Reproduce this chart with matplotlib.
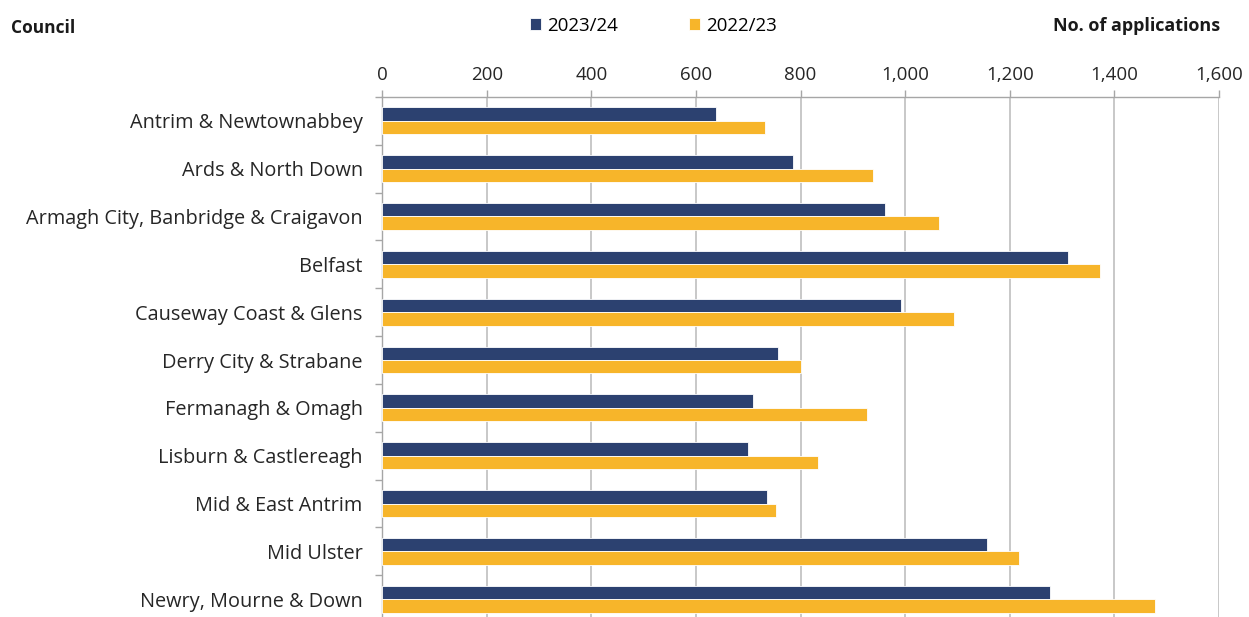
import matplotlib
matplotlib.use('Agg')
import matplotlib.pyplot as plt
from matplotlib.ticker import FuncFormatter, MultipleLocator
import numpy as np

councils = [
    'Antrim & Newtownabbey',
    'Ards & North Down',
    'Armagh City, Banbridge & Craigavon',
    'Belfast',
    'Causeway Coast & Glens',
    'Derry City & Strabane',
    'Fermanagh & Omagh',
    'Lisburn & Castlereagh',
    'Mid & East Antrim',
    'Mid Ulster',
    'Newry, Mourne & Down',
]
apps_2324 = [638, 786, 962, 1311, 991, 757, 709, 699, 735, 1157, 1276]
apps_2223 = [731, 939, 1065, 1372, 1094, 801, 927, 833, 753, 1217, 1478]

navy = '#2C4170'
gold = '#F7B52A'
grid_grey = '#BFBFBF'

plt.rcParams['font.family'] = ['Open Sans', 'DejaVu Sans']

fig = plt.figure(figsize=(12.49, 6.17), dpi=100)
ax = fig.add_axes([0.306, -0.01, 0.67, 0.853])

y = np.arange(len(councils))
h = 0.28
ax.barh(y - h / 2, apps_2324, height=h, color=navy, edgecolor='white', linewidth=0.6,
        label='2023/24', zorder=3)
ax.barh(y + h / 2, apps_2223, height=h, color=gold, edgecolor='white', linewidth=0.6,
        label='2022/23', zorder=3)

ax.set_xlim(0, 1600)
ax.set_ylim(len(councils) - 0.5, -0.5)

# value axis along the top
ax.xaxis.tick_top()
ax.xaxis.set_major_locator(MultipleLocator(200))
ax.xaxis.set_major_formatter(FuncFormatter(lambda v, p: f'{int(v):,}'))
ax.tick_params(axis='x', direction='out', length=5, width=1, color='#A6A6A6',
               labelsize=13.5, labelcolor='#262626', pad=4)
ax.grid(axis='x', color=grid_grey, linewidth=1.2, zorder=0)

# category labels, ticks between the groups
ax.set_yticks(y)
ax.set_yticklabels(councils, fontsize=14.3, color='#262626')
ax.set_yticks(np.arange(len(councils) + 1) - 0.5, minor=True)
ax.tick_params(axis='y', which='major', length=0, pad=14)
ax.tick_params(axis='y', which='minor', direction='out', length=5, width=1, color='#A6A6A6')

for side in ['right', 'bottom']:
    ax.spines[side].set_visible(False)
for side in ['top', 'left']:
    ax.spines[side].set_color('#A6A6A6')
    ax.spines[side].set_linewidth(1)

fig.text(0.009, 0.955, 'Council', fontsize=12.5, fontweight='bold', color='#1a1a1a',
         va='center', ha='left')
fig.text(0.977, 0.958, 'No. of applications', fontsize=13, fontweight='bold',
         color='#1a1a1a', va='center', ha='right')

fig.legend(loc='center', bbox_to_anchor=(0.523, 0.958), ncol=2, frameon=False,
           fontsize=13.5, handlelength=0.6, handleheight=0.6, handletextpad=0.3,
           columnspacing=3.8)

fig.savefig('out.png', dpi=100)
